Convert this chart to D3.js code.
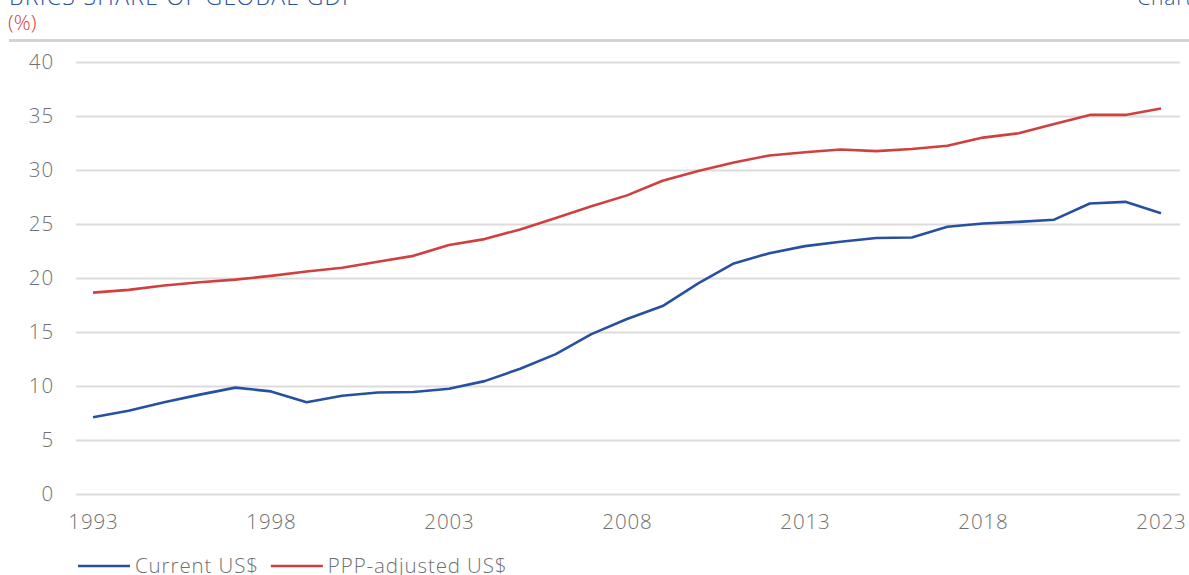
<!DOCTYPE html>
<html>
<head>
<meta charset="utf-8">
<script src="https://cdn.jsdelivr.net/npm/d3@7"></script>
<style>
  html, body { margin: 0; padding: 0; background: #fff; }
  svg { display: block; font-family: "Open Sans", "Noto Sans", sans-serif; font-weight: 300; }
</style>
</head>
<body>
<svg id="chart" width="1189" height="575"></svg>
<script>
// BRICS share of global GDP, %
const years = d3.range(1993, 2024);
const currentUSD = [7.1, 7.7, 8.5, 9.2, 9.85, 9.5, 8.5, 9.1, 9.4, 9.45, 9.75,
  10.45, 11.6, 12.95, 14.8, 16.2, 17.4, 19.5, 21.35, 22.3, 22.95, 23.35, 23.7,
  23.75, 24.75, 25.05, 25.2, 25.4, 26.9, 27.05, 26.0];
const pppUSD = [18.65, 18.9, 19.3, 19.6, 19.85, 20.2, 20.6, 20.95, 21.5, 22.05,
  23.05, 23.6, 24.5, 25.55, 26.65, 27.65, 29.0, 29.9, 30.7, 31.35, 31.65, 31.9,
  31.75, 31.95, 32.25, 33.0, 33.4, 34.25, 35.1, 35.1, 35.7];
const yTicks = [0, 5, 10, 15, 20, 25, 30, 35, 40];
const xTicks = [1993, 1998, 2003, 2008, 2013, 2018, 2023];
const seriesNames = ["Current US$", "PPP-adjusted US$"];

const BLUE = "#2751a0";
const RED = "#d0403f";
const GREY_TEXT = "#707070";
const LABEL_SIZE = 20.5;
const LABEL_SPACING = 0.9;

const svg = d3.select("#chart");

// Header: title, unit and separator rule
svg.append("text").attr("x", 9).attr("y", 5)
  .attr("fill", BLUE).attr("font-size", 23).attr("letter-spacing", 1.3)
  .text("BRICS SHARE OF GLOBAL GDP");
svg.append("text").attr("x", 1193).attr("y", 5).attr("text-anchor", "end")
  .attr("fill", BLUE).attr("font-size", 21).attr("letter-spacing", 0.8)
  .text("Chart");
svg.append("text").attr("x", 8).attr("y", 30)
  .attr("fill", RED).attr("font-size", 21)
  .text("(%)");
svg.append("line").attr("x1", 9).attr("x2", 1189).attr("y1", 40.5).attr("y2", 40.5)
  .attr("stroke", "#d3d3d3").attr("stroke-width", 3);

const x = d3.scaleLinear().domain([1993, 2023]).range([93, 1161]);
const y = d3.scaleLinear().domain([0, 40]).range([494, 62]);

// Horizontal gridlines with value labels
const yAxis = d3.axisLeft(y).tickValues(yTicks).tickSize(-(1180 - 76)).tickPadding(22);
const gy = svg.append("g").attr("transform", "translate(76,0)").call(yAxis)
  .attr("font-family", null).attr("font-size", null);
gy.select(".domain").remove();
gy.selectAll(".tick line").attr("stroke", "#dcdcdc").attr("stroke-width", 2);
gy.selectAll(".tick text").attr("fill", GREY_TEXT).attr("font-size", LABEL_SIZE)
  .attr("letter-spacing", LABEL_SPACING);

// Year labels
const xAxis = d3.axisBottom(x).tickValues(xTicks).tickFormat(d3.format("d"))
  .tickSize(0).tickPadding(20);
const gx = svg.append("g").attr("transform", "translate(0,494)").call(xAxis)
  .attr("font-family", null).attr("font-size", null);
gx.select(".domain").remove();
gx.selectAll(".tick text").attr("fill", GREY_TEXT).attr("font-size", LABEL_SIZE)
  .attr("letter-spacing", LABEL_SPACING);

const line = d3.line().x((d, i) => x(years[i])).y(d => y(d));

svg.append("path").datum(currentUSD).attr("d", line)
  .attr("fill", "none").attr("stroke", BLUE).attr("stroke-width", 2.6)
  .attr("stroke-linejoin", "round");
svg.append("path").datum(pppUSD).attr("d", line)
  .attr("fill", "none").attr("stroke", RED).attr("stroke-width", 2.6)
  .attr("stroke-linejoin", "round");

// Legend: swatch line followed by label, items laid out left to right
const legend = svg.append("g").attr("transform", "translate(78,566)");
let cursor = 0;
[[seriesNames[0], BLUE], [seriesNames[1], RED]].forEach(([name, color]) => {
  const item = legend.append("g").attr("transform", `translate(${cursor},0)`);
  item.append("line").attr("x1", 0).attr("x2", 52)
    .attr("stroke", color).attr("stroke-width", 2.6);
  const t = item.append("text").attr("x", 57).attr("y", 7)
    .attr("fill", GREY_TEXT).attr("font-size", LABEL_SIZE)
    .attr("letter-spacing", LABEL_SPACING)
    .text(name);
  cursor += 57 + t.node().getComputedTextLength() + 12;
});
</script>
</body>
</html>
